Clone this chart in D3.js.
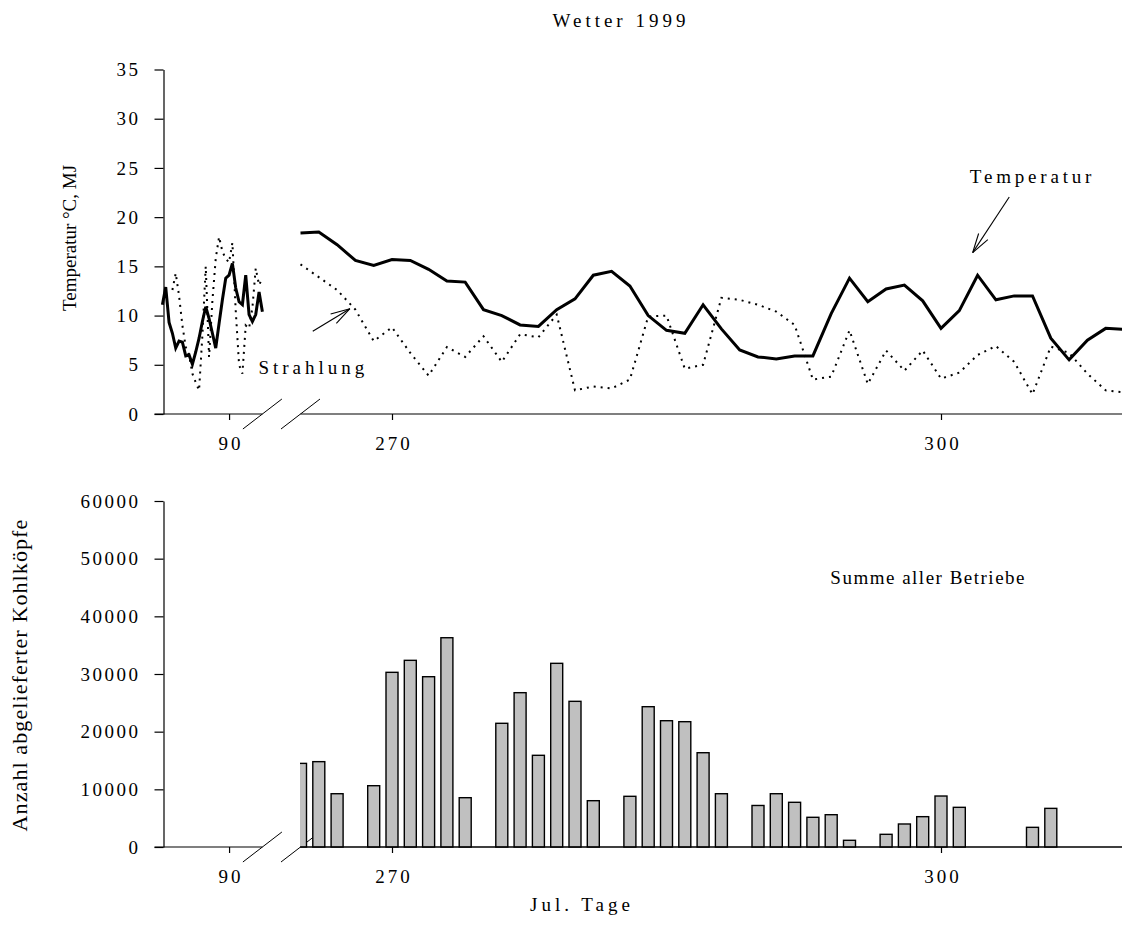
<!DOCTYPE html>
<html><head><meta charset="utf-8">
<script src="https://cdn.jsdelivr.net/npm/d3@7"></script>
<style>
body{margin:0;background:#fff}
svg{display:block}
text{font-family:"Liberation Serif","Times New Roman",serif;fill:#000}
</style>
</head><body>
<svg id="chart" width="1122" height="934"></svg>
<script>
// ---------- DATA ----------
const springDays = [70,71,72,73,74,75,76,77,78,79,80,81,82,83,84,85,86,87,88,89,90,91,92,93,94,95,96,97,98,99,100];
const springTemp = [11.1,12.9,9.3,8.2,6.7,7.4,7.3,5.9,6.0,5.05,6.3,7.7,9.4,10.9,9.7,8.2,6.7,9.2,11.6,13.8,14.1,15.3,12.8,11.4,11.1,14.1,10.1,9.4,10.1,12.4,10.4];
const springRad  = [null,null,null,12.6,14.3,12.0,9.0,6.8,6.0,4.1,3.2,2.4,8.0,15.0,5.8,11.5,15.8,18.0,16.5,15.8,15.4,17.4,10.5,5.0,4.1,9.0,8.7,10.8,14.8,13.1,13.8];

const autumnDays = [265,266,267,268,269,270,271,272,273,274,275,276,277,278,279,280,281,282,283,284,285,286,287,288,289,290,291,292,293,294,295,296,297,298,299,300,301,302,303,304,305,306,307,308,309,310];
const autumnTemp = [18.4,18.5,17.2,15.6,15.1,15.7,15.6,14.7,13.5,13.4,10.6,10.0,9.05,8.9,10.6,11.7,14.1,14.5,13.0,10.0,8.5,8.2,11.1,8.65,6.5,5.8,5.6,5.9,5.9,10.2,13.8,11.4,12.7,13.1,11.5,8.7,10.5,14.1,11.6,12.0,12.0,7.7,5.5,7.5,8.7,8.6];
const autumnRad  = [15.2,13.9,12.6,10.6,7.4,8.8,6.2,3.9,6.8,5.8,7.9,5.3,8.1,7.8,10.1,2.4,2.8,2.6,3.5,9.9,10.0,4.6,5.0,11.8,11.6,11.1,10.4,9.05,3.5,3.8,8.5,3.05,6.45,4.4,6.45,3.6,4.2,6.0,6.9,5.3,2.0,6.85,6.2,4.1,2.4,2.2];

const deliveryDays  = [265,266,267,269,270,271,272,273,274,276,277,278,279,280,281,283,284,285,286,287,288,290,291,292,293,294,295,297,298,299,300,301,305,306];
const deliveryHeads = [14500,14800,9240,10630,30290,32370,29530,36290,8550,21450,26760,15900,31850,25260,8030,8790,24330,21900,21730,16350,9240,7200,9240,7750,5150,5600,1160,2200,3990,5260,8840,6880,3410,6700];

const tempTicks = [0,5,10,15,20,25,30,35];
const headTicks = [0,10000,20000,30000,40000,50000,60000];
const springDayTicks = [90];
const autumnDayTicks = [270,300];

const titleText = "Wetter 1999";
const topYLabel = "Temperatur °C, MJ";
const botYLabel = "Anzahl abgelieferter Kohlköpfe";
const xLabel = "Jul. Tage";
const tempNote = "Temperatur";
const radNote = "Strahlung";
const sumNote = "Summe aller Betriebe";

// annotation anchors in data units [day, value]
const tempArrow = {tail:[303.73,22.05], tip:[301.73,16.4]};
const radArrow  = {tail:[265.67,8.4],  tip:[267.7,10.7]};

// ---------- LAYOUT ----------
const W = 1122, H = 934;
const axisX = 163.5;
const svg = d3.select("#chart");

const xSpring = d3.scaleLinear().domain([70,100]).range([162.4,262.4]);
const xAutumn = d3.scaleLinear().domain([270,300]).range([392,941]);
const yTop = d3.scaleLinear().domain([0,35]).range([414,69.5]);
const yBot = d3.scaleLinear().domain([0,60000]).range([847,501]);

const tickFont = 19, tickLS = 2.5;

function yAxis(scale, ticks) {
  const g = svg.append("g").attr("transform", `translate(${axisX},0)`)
    .call(d3.axisLeft(scale).tickValues(ticks).tickSize(9).tickSizeOuter(0).tickPadding(14).tickFormat(d3.format("d")));
  g.selectAll("path.domain").attr("stroke","#000").attr("stroke-width",1.2);
  g.selectAll(".tick line").attr("stroke","#000").attr("stroke-width",1.2);
  g.selectAll(".tick text").attr("font-size",tickFont).attr("letter-spacing",tickLS)
    .attr("font-family",'"Liberation Serif","Times New Roman",serif').attr("fill","#000");
  return g;
}

function xAxis(baseY, labelPad) {
  const g = svg.append("g");
  const segs = [[axisX - 9, xSpring(100)], [xAutumn(265), W]];
  g.selectAll("line.seg").data(segs).join("line").attr("class","seg")
    .attr("x1", d => d[0]).attr("x2", d => d[1]).attr("y1", baseY).attr("y2", baseY)
    .attr("stroke","#000").attr("stroke-width",1.2);
  const breaks = [xSpring(100), xAutumn(265)];
  g.selectAll("line.brk").data(breaks).join("line").attr("class","brk")
    .attr("x1", d => d - 19.5).attr("y1", baseY + 15)
    .attr("x2", d => d + 19.5).attr("y2", baseY - 15)
    .attr("stroke","#000").attr("stroke-width",1);
  [[xSpring, springDayTicks],[xAutumn, autumnDayTicks]].forEach(([sc, tv]) => {
    const a = g.append("g").attr("transform",`translate(0,${baseY})`)
      .call(d3.axisBottom(sc).tickValues(tv).tickSize(6).tickSizeOuter(0).tickPadding(labelPad).tickFormat(d3.format("d")));
    a.select("path.domain").remove();
    a.selectAll(".tick line").attr("stroke","#000").attr("stroke-width",1.2);
    a.selectAll(".tick text").attr("font-size",tickFont).attr("letter-spacing",3)
      .attr("font-family",'"Liberation Serif","Times New Roman",serif').attr("fill","#000")
      .attr("dx", 1.5);
  });
  return g;
}

function arrow(sx, sy, a) {
  const [tx, ty] = [sx(a.tip[0]), sy(a.tip[1])];
  const [bx, by] = [sx(a.tail[0]), sy(a.tail[1])];
  const ang = Math.atan2(by - ty, bx - tx);
  const len = 20, spread = 16 * Math.PI / 180;
  const g = svg.append("g").attr("stroke","#000").attr("stroke-width",1.1).attr("fill","none");
  g.append("line").attr("x1",bx).attr("y1",by).attr("x2",tx).attr("y2",ty);
  [ang - spread, ang + spread].forEach(t => {
    g.append("line").attr("x1",tx).attr("y1",ty)
      .attr("x2",tx + len*Math.cos(t)).attr("y2",ty + len*Math.sin(t));
  });
}

// ---------- TITLE ----------
svg.append("text").attr("x",621).attr("y",27).attr("text-anchor","middle")
  .attr("font-size",19).attr("letter-spacing",4).text(titleText);

// ---------- TOP PANEL ----------
yAxis(yTop, tempTicks);
xAxis(yTop(0), 17);

const lineSpringT = d3.line().x((d,i) => xSpring(springDays[i])).y(d => yTop(d));
const lineSpringR = d3.line().defined(d => d != null).x((d,i) => xSpring(springDays[i])).y(d => yTop(d));
const lineAutT = d3.line().x((d,i) => xAutumn(autumnDays[i])).y(d => yTop(d));
const lineAutR = d3.line().x((d,i) => xAutumn(autumnDays[i])).y(d => yTop(d));

const dotted = {stroke:"#000", "stroke-width":2, "stroke-dasharray":"2,5", fill:"none"};
function applyAttrs(sel, o){ Object.entries(o).forEach(([k,v]) => sel.attr(k,v)); return sel; }

applyAttrs(svg.append("path").attr("d", lineSpringR(springRad)), dotted);
applyAttrs(svg.append("path").attr("d", lineAutR(autumnRad)), dotted);

svg.append("path").attr("d", lineSpringT(springTemp)).attr("fill","none")
  .attr("stroke","#000").attr("stroke-width",3).attr("stroke-linejoin","miter");
svg.append("path").attr("d", lineAutT(autumnTemp)).attr("fill","none")
  .attr("stroke","#000").attr("stroke-width",3).attr("stroke-linejoin","miter");

svg.append("text").attr("x", xAutumn(305.0)).attr("y", yTop(23.5)).attr("text-anchor","middle")
  .attr("font-size",19).attr("letter-spacing",3.8).text(tempNote);
arrow(xAutumn, yTop, tempArrow);
svg.append("text").attr("x", xAutumn(262.7)).attr("y", yTop(4.06)).attr("text-anchor","start")
  .attr("font-size",19).attr("letter-spacing",4).text(radNote);
arrow(xAutumn, yTop, radArrow);

svg.append("text").attr("transform",`translate(76,238) rotate(-90)`).attr("text-anchor","middle")
  .attr("font-size",19).text(topYLabel);

// ---------- BOTTOM PANEL ----------
yAxis(yBot, headTicks);
xAxis(yBot(0), 17);

svg.append("defs").append("clipPath").attr("id","clipAut")
  .append("rect").attr("x", xAutumn(265) - 0.5).attr("y", 0).attr("width", W).attr("height", H);

const barW = 12;
svg.append("g").attr("clip-path","url(#clipAut)")
  .selectAll("rect").data(deliveryHeads).join("rect")
  .attr("x", (d,i) => xAutumn(deliveryDays[i]) - barW/2)
  .attr("width", barW)
  .attr("y", d => yBot(d))
  .attr("height", d => yBot(0) - yBot(d))
  .attr("fill","#c0c0c0").attr("stroke","#000").attr("stroke-width",1.4);

svg.append("line").attr("x1", xAutumn(265)).attr("x2", W).attr("y1", yBot(0)).attr("y2", yBot(0))
  .attr("stroke","#000").attr("stroke-width",1.2);

svg.append("text").attr("x", xAutumn(299.3)).attr("y", yBot(45600)).attr("text-anchor","middle")
  .attr("font-size",19).attr("letter-spacing",1.5).text(sumNote);

svg.append("text").attr("transform",`translate(27,675) rotate(-90)`).attr("text-anchor","middle")
  .attr("font-size",22).attr("letter-spacing",1.1).text(botYLabel);

svg.append("text").attr("x",582).attr("y",911).attr("text-anchor","middle")
  .attr("font-size",19).attr("letter-spacing",4).text(xLabel);
</script>
</body></html>
